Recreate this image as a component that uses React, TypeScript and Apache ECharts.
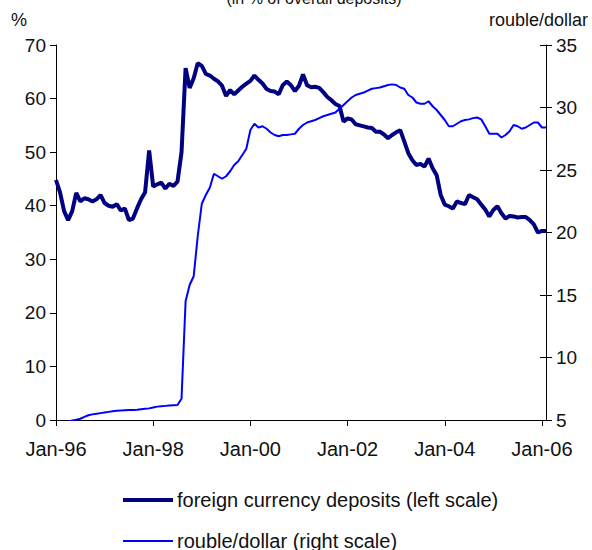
import React, { useEffect, useRef } from "react";
import * as echarts from "echarts";

const MONTHS = ["Jan", "Feb", "Mar", "Apr", "May", "Jun", "Jul", "Aug", "Sep", "Oct", "Nov", "Dec"];
const YEARS = ["96", "97", "98", "99", "00", "01", "02", "03", "04", "05", "06"];
const categories: string[] = [];
for (const y of YEARS) for (const m of MONTHS) categories.push(`${m}-${y}`);
const CATS = categories.slice(0, 122);

const deposits = [
  44.8, 42.5, 39.0, 37.3, 39.0, 42.4, 40.8, 41.4, 41.2, 40.8, 41.2, 42.0,
  40.5, 40.0, 39.8, 40.3, 39.1, 39.5, 37.3, 37.6, 39.5, 41.2, 42.5, 50.3,
  43.6, 44.0, 44.3, 43.2, 44.1, 43.7, 44.5, 50.0, 65.7, 62.0, 63.8, 66.6,
  66.1, 64.6, 64.3, 63.7, 63.2, 62.4, 60.5, 61.6, 60.8, 61.5, 62.2, 62.8,
  63.3, 64.3, 63.5, 62.8, 61.8, 61.4, 61.3, 60.8, 62.5, 63.2, 62.5, 61.4,
  62.4, 64.5, 62.5, 62.1, 62.2, 62.0, 61.2, 60.3, 59.7, 59.0, 58.6, 55.7,
  56.3, 56.1, 55.2, 55.0, 54.8, 54.6, 54.5, 53.8, 53.8, 53.3, 52.6, 53.2,
  53.7, 54.1, 52.0, 49.8, 48.5, 47.6, 47.8, 47.3, 48.8, 47.0, 45.7, 42.0,
  40.2, 39.9, 39.5, 40.8, 40.5, 40.3, 42.0, 41.6, 41.2, 40.2, 39.3, 38.0,
  39.2, 39.9, 38.6, 37.6, 38.1, 38.0, 37.8, 37.9, 37.9, 37.3, 36.5, 35.0,
  35.3, 35.3,
];

const rouble = [
  4.6, 4.7, 4.8, 4.85, 4.97, 5.03, 5.1, 5.25, 5.38, 5.45, 5.5, 5.55,
  5.6, 5.65, 5.7, 5.74, 5.76, 5.78, 5.8, 5.8, 5.82, 5.86, 5.9, 5.93,
  6.0, 6.07, 6.1, 6.13, 6.16, 6.18, 6.2, 6.7, 14.5, 15.8, 16.5, 19.7,
  22.3, 23.0, 23.6, 24.7, 24.5, 24.3, 24.5, 24.9, 25.4, 25.7, 26.2, 26.7,
  28.2, 28.7, 28.4, 28.5, 28.3, 28.0, 27.8, 27.7, 27.8, 27.8, 27.85, 27.9,
  28.3, 28.6, 28.8, 28.9, 29.0, 29.15, 29.3, 29.4, 29.5, 29.6, 29.9, 30.2,
  30.5, 30.8, 31.0, 31.1, 31.2, 31.35, 31.5, 31.55, 31.6, 31.7, 31.8, 31.85,
  31.8, 31.6, 31.5, 31.0, 30.8, 30.4, 30.3, 30.3, 30.5, 30.1, 29.8, 29.4,
  29.0, 28.5, 28.5, 28.7, 28.9, 29.0, 29.05, 29.15, 29.2, 29.05, 28.5, 27.9,
  27.9, 27.9, 27.6, 27.8, 28.1, 28.6, 28.5, 28.3, 28.4, 28.6, 28.8, 28.8,
  28.4, 28.4,
];

const SERIES_NAMES = ["foreign currency deposits (left scale)", "rouble/dollar (right scale)"];
const TITLE = "(in % of overall deposits)";
const LEFT_UNIT = "%";
const RIGHT_UNIT = "rouble/dollar";

const FONT = "Liberation Sans, Arial, Helvetica, sans-serif";
const TXT = "#111";

export default function App() {
  const ref = useRef<HTMLDivElement>(null);
  useEffect(() => {
    if (!ref.current) return;
    const chart = echarts.init(ref.current, undefined, { renderer: "svg" });
    const axisLine = { show: true, lineStyle: { color: "#000", width: 1 } };
    const legendBase = {
      left: 123,
      orient: "vertical",
      padding: 0,
      itemWidth: 50,
      icon: "rect",
      textStyle: { fontSize: 20, color: TXT, fontFamily: FONT, padding: [0, 0, 0, -1] },
    };
    chart.setOption({
      animation: false,
      backgroundColor: "#fff",
      textStyle: { fontFamily: FONT },
      grid: { left: 56, right: 46, top: 45, bottom: 130, containLabel: false },
      xAxis: {
        type: "category",
        data: CATS,
        boundaryGap: false,
        axisLine,
        axisTick: { show: true, length: 6, interval: (i: number) => i % 24 === 0, lineStyle: { color: "#000" } },
        axisLabel: {
          interval: (i: number) => i % 24 === 0,
          margin: 19,
          fontSize: 20,
          color: TXT,
          fontFamily: FONT,
        },
        splitLine: { show: false },
      },
      yAxis: [
        {
          type: "value",
          position: "left",
          min: 0,
          max: 70,
          interval: 10,
          axisLine,
          axisTick: { show: true, length: 6, lineStyle: { color: "#000" } },
          axisLabel: { margin: 10, fontSize: 19, color: TXT, fontFamily: FONT },
          splitLine: { show: false },
        },
        {
          type: "value",
          position: "right",
          min: 5,
          max: 35,
          interval: 5,
          axisLine,
          axisTick: { show: true, length: 6, lineStyle: { color: "#000" } },
          axisLabel: { margin: 10, fontSize: 19, color: TXT, fontFamily: FONT },
          splitLine: { show: false },
        },
        {
          type: "value",
          position: "right",
          min: 5,
          max: 35,
          interval: 5,
          axisLine: { show: false },
          axisTick: { show: true, inside: true, length: 6, lineStyle: { color: "#000" } },
          axisLabel: { show: false },
          splitLine: { show: false },
        },
      ],
      legend: [
        { ...legendBase, data: [SERIES_NAMES[0]], top: 490, itemHeight: 4 },
        { ...legendBase, data: [SERIES_NAMES[1]], top: 531, itemHeight: 2 },
      ],
      graphic: [
        {
          type: "text",
          x: 314,
          y: -2,
          style: { text: TITLE, font: `16px ${FONT}`, fill: TXT, align: "center", verticalAlign: "middle" },
        },
        {
          type: "text",
          x: 11,
          y: 20,
          style: { text: LEFT_UNIT, font: `18px ${FONT}`, fill: TXT, align: "left", verticalAlign: "middle" },
        },
        {
          type: "text",
          x: 588,
          y: 20,
          style: { text: RIGHT_UNIT, font: `18px ${FONT}`, fill: TXT, align: "right", verticalAlign: "middle" },
        },
      ],
      series: [
        {
          name: SERIES_NAMES[0],
          type: "line",
          data: deposits,
          yAxisIndex: 0,
          symbol: "none",
          showSymbol: false,
          lineStyle: { color: "#000080", width: 4 },
          itemStyle: { color: "#000080" },
        },
        {
          name: SERIES_NAMES[1],
          type: "line",
          data: rouble,
          yAxisIndex: 1,
          symbol: "none",
          showSymbol: false,
          clip: true,
          lineStyle: { color: "#0000ff", width: 2 },
          itemStyle: { color: "#0000ff" },
        },
      ],
    });
    return () => chart.dispose();
  }, []);
  return (
    <div
      ref={ref}
      style={{ position: "fixed", left: 0, top: 0, width: 592, height: 550, background: "#fff" }}
    />
  );
}
